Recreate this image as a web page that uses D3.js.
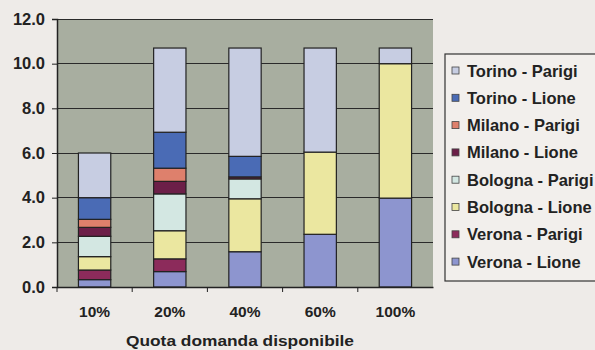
<!DOCTYPE html>
<html>
<head>
<meta charset="utf-8">
<script src="https://cdn.jsdelivr.net/npm/d3@7"></script>
<style>
  html, body { margin: 0; padding: 0; background: #eeebe8; }
  svg { display: block; }
  text { font-family: "Liberation Sans", Arial, sans-serif; fill: #222; }
</style>
</head>
<body>
<svg id="chart" width="595" height="350"></svg>
<script>
// Categories (x axis)
const categories = ["10%", "20%", "40%", "60%", "100%"];
// Series, listed bottom-to-top in the stack
const seriesNames = ["Verona - Lione", "Verona - Parigi", "Bologna - Lione", "Bologna - Parigi",
                     "Milano - Lione", "Milano - Parigi", "Torino - Lione", "Torino - Parigi"];
const veronaLione   = [0.33, 0.69, 1.58, 2.36, 3.98];
const veronaParigi  = [0.43, 0.57, 0.00, 0.00, 0.00];
const bolognaLione  = [0.60, 1.26, 2.37, 3.68, 6.02];
const bolognaParigi = [0.91, 1.65, 0.89, 0.00, 0.00];
const milanoLione   = [0.40, 0.56, 0.09, 0.00, 0.00];
const milanoParigi  = [0.36, 0.59, 0.00, 0.00, 0.00];
const torinoLione   = [0.97, 1.61, 0.92, 0.00, 0.00];
const torinoParigi  = [2.00, 3.77, 4.85, 4.66, 0.70];
const seriesValues = [veronaLione, veronaParigi, bolognaLione, bolognaParigi,
                      milanoLione, milanoParigi, torinoLione, torinoParigi];
const seriesColors = ["#8d95cf", "#8c2b5b", "#ebe7a0", "#d3e7e2",
                      "#6c1f48", "#de806c", "#4a6bb5", "#c7cde2"];
const yTicks = [0, 2, 4, 6, 8, 10, 12];
const xTitle = "Quota domanda disponibile";

const svg = d3.select("#chart");
const plot = { left: 57, right: 433, top: 19, bottom: 287 };

const table = categories.map((c, i) => {
  const row = { cat: c };
  seriesNames.forEach((s, j) => row[s] = seriesValues[j][i]);
  return row;
});
const stacked = d3.stack().keys(seriesNames)(table);

const x = d3.scaleBand().domain(categories).range([plot.left, plot.right])
  .paddingInner(0.57).paddingOuter(0.285);
const y = d3.scaleLinear().domain([0, 12]).range([plot.bottom, plot.top]);

// plot background
svg.append("rect").attr("x", plot.left).attr("y", plot.top)
  .attr("width", plot.right - plot.left).attr("height", plot.bottom - plot.top)
  .attr("fill", "#a8ae a0".replace(" ", ""));

// gridlines
svg.append("g").selectAll("line").data(yTicks.filter(d => d > 0)).join("line")
  .attr("x1", plot.left).attr("x2", plot.right)
  .attr("y1", d => y(d)).attr("y2", d => y(d))
  .attr("stroke", "#2a2a2a").attr("stroke-width", 1).attr("shape-rendering", "crispEdges");

// bars
const g = svg.append("g");
stacked.forEach((layer, j) => {
  g.append("g").attr("fill", seriesColors[j])
    .selectAll("rect").data(layer.filter(d => d[1] - d[0] > 0)).join("rect")
    .attr("x", d => x(d.data.cat))
    .attr("width", x.bandwidth())
    .attr("y", d => y(d[1]))
    .attr("height", d => y(d[0]) - y(d[1]))
    .attr("stroke", "#222").attr("stroke-width", 1.2);
});

// y axis
const yAxis = svg.append("g").attr("transform", `translate(${plot.left},0)`)
  .call(d3.axisLeft(y).tickValues(yTicks).tickFormat(d3.format(".1f")).tickSize(5).tickPadding(7));
yAxis.select(".domain").attr("stroke", "#222").attr("stroke-width", 1.5);
yAxis.selectAll(".tick line").attr("stroke", "#222");
yAxis.selectAll("text").attr("font-size", 16.5).attr("font-weight", "bold").attr("fill", "#222")
  .attr("font-family", "Liberation Sans, Arial, sans-serif");

// x axis
const xAxis = svg.append("g").attr("transform", `translate(0,${plot.bottom})`)
  .call(d3.axisBottom(x).tickSize(0).tickPadding(19));
xAxis.select(".domain").attr("stroke", "#222").attr("stroke-width", 1.5);
xAxis.selectAll("text").attr("font-size", 15.5).attr("font-weight", "bold").attr("fill", "#333")
  .attr("font-family", "Liberation Sans, Arial, sans-serif");
// tick marks at band boundaries
const step = x.step();
const bounds = categories.slice(1).map(c => x(c) - (step - x.bandwidth()) / 2);
xAxis.append("g").selectAll("line").data(bounds.concat([plot.left])).join("line")
  .attr("x1", d => d).attr("x2", d => d).attr("y1", 0).attr("y2", 5)
  .attr("stroke", "#222");

// x title
svg.append("text").attr("x", 240).attr("y", 346).attr("text-anchor", "middle")
  .attr("font-size", 15).attr("font-weight", "bold")
  .attr("textLength", 228).attr("lengthAdjust", "spacingAndGlyphs").text(xTitle);

// legend
const lg = svg.append("g");
lg.append("rect").attr("x", 445).attr("y", 54).attr("width", 160).attr("height", 227)
  .attr("fill", "#f2efec").attr("stroke", "#333").attr("stroke-width", 1.2);
const legendOrder = seriesNames.map((s, j) => ({ name: s, color: seriesColors[j] })).reverse();
const item = lg.selectAll("g.item").data(legendOrder).join("g").attr("class", "item")
  .attr("transform", (d, i) => `translate(0,${70.5 + i * 27.3})`);
item.append("rect").attr("x", 452).attr("y", -3.5).attr("width", 7).attr("height", 7)
  .attr("fill", d => d.color).attr("stroke", "#444").attr("stroke-width", 0.8);
item.append("text").attr("x", 467).attr("y", 6).attr("font-size", 16.5).attr("font-weight", "bold")
  .attr("fill", "#2a2a2a")
  .text(d => d.name);
</script>
</body>
</html>
